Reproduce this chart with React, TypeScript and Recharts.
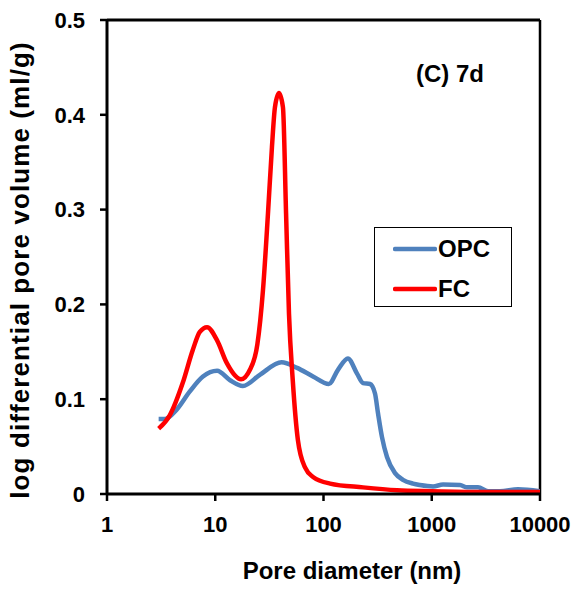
import { LineChart, Line, XAxis, YAxis, ReferenceLine, Label } from 'recharts';

// Pore diameter (nm) / log differential pore volume (ml/g)
const opcX = [3, 3.4, 4.4, 5.8, 7.7, 10.4, 13.7, 18, 26, 41, 57, 80, 112, 136, 168, 204, 232, 269, 299, 319, 347, 386, 458, 542, 671, 779, 1028, 1271, 1825, 2119, 2675, 3311, 4270, 6266, 10000];
const opcY = [0.079, 0.079, 0.089, 0.108, 0.124, 0.13, 0.12, 0.114, 0.126, 0.139, 0.133, 0.124, 0.116, 0.131, 0.143, 0.127, 0.117, 0.116, 0.106, 0.085, 0.06, 0.039, 0.022, 0.015, 0.011, 0.0095, 0.008, 0.01, 0.0095, 0.007, 0.007, 0.003, 0.003, 0.005, 0.003];

const fcX = [3, 3.8, 5, 6.2, 7.2, 8.4, 10.4, 12.8, 17.3, 20.9, 24.5, 27.6, 30.7, 33.4, 35.6, 38.8, 42.2, 45.1, 48, 52, 58, 67.5, 80, 115, 232, 478, 1000, 3000, 10000];
const fcY = [0.069, 0.083, 0.117, 0.152, 0.171, 0.176, 0.162, 0.138, 0.121, 0.131, 0.158, 0.215, 0.296, 0.366, 0.408, 0.423, 0.408, 0.296, 0.19, 0.12, 0.057, 0.028, 0.018, 0.011, 0.007, 0.004, 0.003, 0.002, 0.002];

const xTicks = [1, 10, 100, 1000, 10000];
const yTicks = [0, 0.1, 0.2, 0.3, 0.4, 0.5];

const seriesNames = ['OPC', 'FC'];
const COLORS = ['#4F81BD', '#FF0000'];

const FONT = '"Liberation Sans", Arial, sans-serif';

const opcData = opcX.map((x, i) => ({ x, y: opcY[i] }));
const fcData = fcX.map((x, i) => ({ x, y: fcY[i] }));

const tickStyle = { fontSize: 22, fontWeight: 'bold', fill: '#000', fontFamily: FONT };

export default function App() {
  return (
    <div style={{ position: 'absolute', left: 0, top: 0, width: 576, height: 589, background: '#fff', fontFamily: FONT }}>
      <LineChart width={576} height={589} margin={{ top: 20, right: 36, left: 0, bottom: 0 }}>
        <XAxis
          dataKey="x"
          type="number"
          scale="log"
          domain={[1, 10000]}
          ticks={xTicks}
          allowDataOverflow
          height={95}
          tick={tickStyle}
          tickSize={7}
          tickMargin={15}
          tickLine={{ stroke: '#000', strokeWidth: 2.5 }}
          axisLine={{ stroke: '#000', strokeWidth: 3 }}
        >
          <Label
            content={() => (
              <text x={352} y={579} textAnchor="middle" fontSize={24} fontWeight="bold" fontFamily={FONT} fill="#000">
                Pore diameter (nm)
              </text>
            )}
          />
        </XAxis>
        <YAxis
          dataKey="y"
          type="number"
          domain={[0, 0.5]}
          ticks={yTicks}
          width={107}
          tick={tickStyle}
          tickFormatter={(v: number) => (v === 0 ? '0' : v.toFixed(1))}
          tickSize={7}
          tickMargin={15}
          tickLine={{ stroke: '#000', strokeWidth: 2.5 }}
          axisLine={{ stroke: '#000', strokeWidth: 3 }}
        >
          <Label
            content={() => (
              <text
                x={29}
                y={270}
                transform="rotate(-90 29 270)"
                textAnchor="middle"
                fontSize={26}
                fontWeight="bold"
                fontFamily={FONT}
                fill="#000"
                letterSpacing={1.1}
              >
                log differential pore volume (ml/g)
              </text>
            )}
          />
        </YAxis>
        <ReferenceLine y={0.5} stroke="#000" strokeWidth={3} />
        <ReferenceLine x={10000} stroke="#000" strokeWidth={2.5} />
        <Line
          data={opcData}
          dataKey="y"
          name={seriesNames[0]}
          type="monotone"
          stroke={COLORS[0]}
          strokeWidth={4.5}
          dot={false}
          isAnimationActive={false}
        />
        <Line
          data={fcData}
          dataKey="y"
          name={seriesNames[1]}
          type="monotone"
          stroke={COLORS[1]}
          strokeWidth={4.5}
          dot={false}
          isAnimationActive={false}
        />
      </LineChart>

      {/* panel tag */}
      <div style={{ position: 'absolute', left: 416, top: 60, fontSize: 24, fontWeight: 'bold', lineHeight: '28px', color: '#000' }}>
        (C) 7d
      </div>

      {/* legend box */}
      <div
        style={{
          position: 'absolute',
          left: 374,
          top: 227,
          width: 136,
          height: 78,
          border: '1.5px solid #000',
          background: '#fff',
        }}
      >
        {seriesNames.map((name, i) => (
          <div key={name} style={{ position: 'absolute', left: 18, top: 7 + i * 40, height: 28, display: 'flex', alignItems: 'center' }}>
            <svg width={44} height={8}>
              <line x1={2} y1={4} x2={42} y2={4} stroke={COLORS[i]} strokeWidth={4.5} strokeLinecap="round" />
            </svg>
            <span style={{ fontSize: 24, fontWeight: 'bold', lineHeight: '28px', marginLeft: 1 }}>{name}</span>
          </div>
        ))}
      </div>
    </div>
  );
}
